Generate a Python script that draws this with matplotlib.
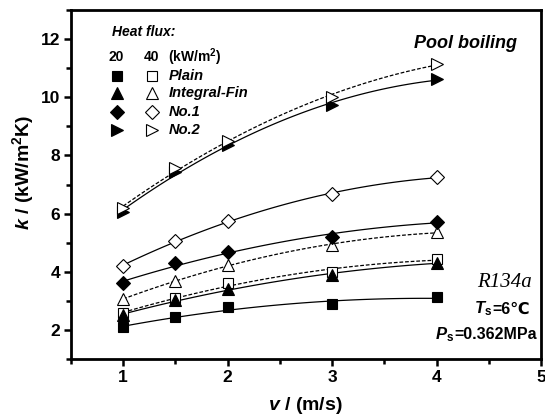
import numpy as np
import matplotlib
matplotlib.use("Agg")
import matplotlib.pyplot as plt

plt.rcParams['font.family'] = ['Liberation Sans', 'DejaVu Sans']
plt.rcParams['mathtext.fontset'] = 'custom'
plt.rcParams['mathtext.rm'] = 'Liberation Sans'
plt.rcParams['mathtext.it'] = 'Liberation Sans:italic'
plt.rcParams['mathtext.bf'] = 'Liberation Sans:bold'
plt.rcParams['mathtext.bfit'] = 'Liberation Sans:bold:italic'

# ---- data ----
v = [1.0, 1.5, 2.0, 3.0, 4.0]
plain_20 = [2.09, 2.43, 2.78, 2.89, 3.12]
plain_40 = [2.57, 3.09, 3.60, 4.00, 4.43]
fin_20 = [2.51, 3.03, 3.39, 3.89, 4.31]
fin_40 = [3.05, 3.69, 4.23, 4.92, 5.35]
no1_20 = [3.60, 4.29, 4.69, 5.20, 5.72]
no1_40 = [4.20, 5.06, 5.74, 6.66, 7.25]
no2_20 = [6.06, 7.44, 8.35, 9.73, 10.62]
no2_40 = [6.18, 7.57, 8.49, 10.02, 11.14]

surfaces = ['Plain', 'Integral-Fin', 'No.1', 'No.2']
markers = ['s', '^', 'D', '>']
series_20 = [plain_20, fin_20, no1_20, no2_20]
series_40 = [plain_40, fin_40, no1_40, no2_40]
style_40 = ['--', '--', '-', '--']
heat_flux = ['20', '40']

fig = plt.figure(figsize=(5.45, 4.18), dpi=100)
ax = fig.add_axes([71/545, 59/418, 470/545, 349/418])

xs = np.linspace(1, 4, 100)
msz = {'s': 7, '^': 8.5, 'D': 7.5, '>': 8.5}
for m, y20, y40, s40 in zip(markers, series_20, series_40, style_40):
    for y, ls, fc in ((y20, '-', 'black'), (y40, s40, 'white')):
        c = np.polyfit(v, y, 2)
        ax.plot(xs, np.polyval(c, xs), color='black', ls=ls, lw=0.9,
                dashes=(3, 1.5) if ls == '--' else (None, None), zorder=2)
        ax.plot(v, y, ls='none', marker=m, ms=msz[m], mfc=fc, mec='black',
                mew=0.8, zorder=3)

ax.set_xlim(0.5, 5)
ax.set_ylim(1, 13)
ax.set_xticks([1, 2, 3, 4, 5])
ax.set_xticks([0.5, 1.5, 2.5, 3.5, 4.5], minor=True)
ax.set_yticks([2, 4, 6, 8, 10, 12])
ax.set_yticks([1, 3, 5, 7, 9, 11, 13], minor=True)
for s in ax.spines.values():
    s.set_linewidth(2.0)
ax.tick_params(which='major', direction='out', length=5, width=1.8,
               labelsize=12.5, pad=3)
ax.tick_params(which='minor', direction='out', length=3.5, width=1.8)
for lab in ax.get_xticklabels() + ax.get_yticklabels():
    lab.set_fontweight('bold')

xl = ax.set_xlabel(r'$\mathbfit{v}$ / (m/s)', fontsize=14, fontweight='bold')
xl.set_va('center')
ax.xaxis.set_label_coords(0.498, -0.132)
yl = ax.set_ylabel(r'$\mathbfit{k}$ / (kW/m$^{\mathbf{2}}$K)', fontsize=14,
                   fontweight='bold')
yl.set_va('center')
ax.yaxis.set_label_coords(-0.103, 0.535)

# ---- legend drawn as text ----
T = ax.transAxes
fs = 10
ax.text(0.088, 0.937, 'Heat flux:', transform=T, fontsize=fs, fontweight='bold',
        style='italic', va='center', ha='left')
ax.text(0.079, 0.866, heat_flux[0], transform=T, fontsize=fs, fontweight='bold',
        va='center', ha='left')
ax.text(0.155, 0.866, heat_flux[1], transform=T, fontsize=fs, fontweight='bold',
        va='center', ha='left')
ax.text(0.206, 0.866, r'(kW/m$^{\mathbf{2}}$)', transform=T, fontsize=fs,
        fontweight='bold', va='center', ha='left')
rows = [0.811, 0.761, 0.709, 0.656]
for name, m, yy in zip(surfaces, markers, rows):
    ax.plot([0.097], [yy], transform=T, marker=m, ms=msz[m], mfc='black',
            mec='black', mew=0.8, ls='none', clip_on=False)
    ax.plot([0.173], [yy], transform=T, marker=m, ms=msz[m], mfc='white',
            mec='black', mew=0.8, ls='none', clip_on=False)
    ax.text(0.209, yy, name, transform=T, fontsize=10.5, fontweight='bold',
            style='italic', va='center', ha='left')

ax.text(0.949, 0.905, 'Pool boiling', transform=T, fontsize=13,
        fontweight='bold', style='italic', va='center', ha='right')
ax.text(0.981, 0.218, 'R134a', transform=T, fontsize=15, style='italic',
        family='Liberation Serif', va='center', ha='right')

t1 = ax.text(0.977, 0.143, '=6\u2103', transform=T, fontsize=11.5,
             fontweight='bold', va='center', ha='right',
             family=['Liberation Sans', 'DejaVu Sans'])
ax.annotate(r'$\mathbfit{T}_{\mathbf{s}}$', xy=(0, 0.5), xycoords=t1,
            ha='right', va='center', fontsize=12, xytext=(0, 0),
            textcoords='offset points')
t2 = ax.text(0.991, 0.069, '=0.362MPa', transform=T, fontsize=11.5,
             fontweight='bold', va='center', ha='right')
ax.annotate(r'$\mathbfit{P}_{\mathbf{s}}$', xy=(0, 0.5), xycoords=t2,
            ha='right', va='center', fontsize=12, xytext=(0, 0),
            textcoords='offset points')

fig.savefig('out.png', dpi=100)
